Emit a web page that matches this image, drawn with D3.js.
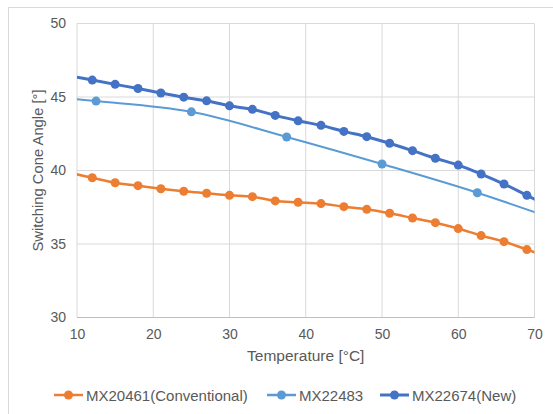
<!DOCTYPE html>
<html><head><meta charset="utf-8">
<script src="https://cdn.jsdelivr.net/npm/d3@7"></script>
<style>body{margin:0;background:#fff;}svg{display:block;font-family:"Liberation Sans",Arial,sans-serif;}</style>
</head><body>
<script>
// Data (points outside 10–70 are clipped by the plot area, as in the original)
const xConv = [9,12,15,18,21,24,27,30,33,36,39,42,45,48,51,54,57,60,63,66,69,72];
const yConv = [39.85,39.51,39.17,38.97,38.76,38.59,38.45,38.31,38.22,37.93,37.84,37.75,37.54,37.36,37.09,36.77,36.45,36.05,35.57,35.16,34.62,34.10];
const x483 = [0,12.5,25,37.5,50,62.5,75];
const y483 = [45.25,44.72,43.99,42.28,40.44,38.49,36.25];
const xNew = [9,12,15,18,21,24,27,30,33,36,39,42,45,48,51,54,57,60,63,66,69,72];
const yNew = [46.45,46.15,45.86,45.58,45.27,44.99,44.74,44.40,44.16,43.75,43.38,43.07,42.66,42.30,41.85,41.35,40.83,40.37,39.76,39.08,38.31,37.55];
const seriesNames = ["MX20461(Conventional)","MX22483","MX22674(New)"];
const colors = ["#ED7D31","#5B9BD5","#4472C4"];
const xTicks = [10,20,30,40,50,60,70];
const yTicks = [30,35,40,45,50];
const xTitle = "Temperature [°C]";
const yTitle = "Switching Cone Angle [°]";

const W=553,H=414;
const svg=d3.select("body").append("svg").attr("width",W).attr("height",H);
// chart border
svg.append("rect").attr("x",8.5).attr("y",7.5).attr("width",W).attr("height",H).attr("fill","none").attr("stroke","#D9D9D9");

const x=d3.scaleLinear().domain([10,70]).range([77,534.5]);
const y=d3.scaleLinear().domain([30,50]).range([317.5,23.5]);

// gridlines
svg.append("g").selectAll("line").data(xTicks).join("line")
  .attr("x1",d=>x(d)).attr("x2",d=>x(d)).attr("y1",y(30)).attr("y2",y(50))
  .attr("stroke","#D9D9D9").attr("stroke-width",1);
svg.append("g").selectAll("line").data(yTicks).join("line")
  .attr("x1",x(10)).attr("x2",x(70)).attr("y1",d=>y(d)).attr("y2",d=>y(d))
  .attr("stroke","#D9D9D9").attr("stroke-width",1);

// axes labels via d3 axes (no domain/ticks lines)
const xAxis=svg.append("g").attr("transform",`translate(0,${y(30)})`)
  .call(d3.axisBottom(x).tickValues(xTicks).tickSize(0).tickPadding(12));
const yAxis=svg.append("g").attr("transform",`translate(${x(10)},0)`)
  .call(d3.axisLeft(y).tickValues(yTicks).tickSize(0).tickPadding(11));
[xAxis,yAxis].forEach(a=>{a.select(".domain").remove();
  a.selectAll("text").attr("fill","#595959").style("font-size","14px").style("font-family","'Liberation Sans',Arial,sans-serif");});
// axis base line
svg.append("line").attr("x1",x(10)).attr("x2",x(70)).attr("y1",y(30)).attr("y2",y(30)).attr("stroke","#BFBFBF");

svg.append("text").attr("x",(x(10)+x(70))/2).attr("y",361).attr("text-anchor","middle")
  .attr("fill","#595959").style("font-size","15.5px").text(xTitle);
svg.append("text").attr("transform",`translate(43,${(y(30)+y(50))/2}) rotate(-90)`).attr("text-anchor","middle")
  .attr("fill","#595959").style("font-size","14.8px").text(yTitle);

// clip
svg.append("clipPath").attr("id","clip").append("rect")
  .attr("x",x(10)).attr("y",y(50)-6).attr("width",x(70)-x(10)).attr("height",y(30)-y(50)+12);

const series=[
  {xs:xConv,ys:yConv,c:colors[0],w:2.5,r:4.5},
  {xs:x483,ys:y483,c:colors[1],w:2,r:4.5},
  {xs:xNew,ys:yNew,c:colors[2],w:3,r:4.5}
];
const line=d3.line().x(d=>x(d[0])).y(d=>y(d[1])).curve(d3.curveCatmullRom.alpha(0.5));
const g=svg.append("g").attr("clip-path","url(#clip)");
series.forEach(s=>{
  const pts=s.xs.map((v,i)=>[v,s.ys[i]]);
  g.append("path").datum(pts).attr("d",line).attr("fill","none").attr("stroke",s.c).attr("stroke-width",s.w);
  g.selectAll(null).data(pts.filter(p=>p[0]>10&&p[0]<70)).join("circle")
    .attr("cx",d=>x(d[0])).attr("cy",d=>y(d[1])).attr("r",s.r).attr("fill",s.c);
});

// legend
const legX=[54,267,380];
const lg=svg.append("g");
seriesNames.forEach((n,i)=>{
  const gx=legX[i], gy=395;
  lg.append("line").attr("x1",gx).attr("x2",gx+29).attr("y1",gy).attr("y2",gy).attr("stroke",colors[i]).attr("stroke-width",i==2?3:2.5);
  lg.append("circle").attr("cx",gx+14.5).attr("cy",gy).attr("r",4.5).attr("fill",colors[i]);
  lg.append("text").attr("x",gx+32).attr("y",gy+5.5).attr("fill","#595959").style("font-size","15px").text(n);
});
</script>
</body></html>
